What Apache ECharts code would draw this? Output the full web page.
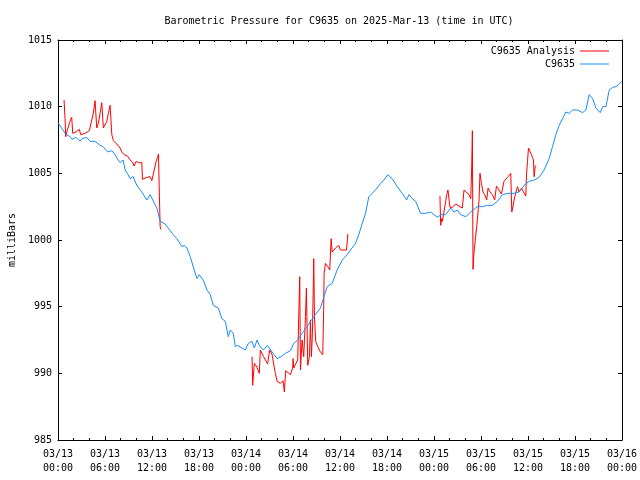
<!DOCTYPE html>
<html>
<head>
<meta charset="utf-8">
<script src="https://cdn.jsdelivr.net/npm/echarts@6/dist/echarts.min.js"></script>
<style>
html,body{margin:0;padding:0;background:#fff;}
#chart{width:640px;height:480px;}
</style>
</head>
<body>
<div id="chart"></div>
<script>
// Time in hours after 2025-03-13 00:00 UTC
const tickLabels = ['03/13\n00:00','03/13\n06:00','03/13\n12:00','03/13\n18:00','03/14\n00:00','03/14\n06:00','03/14\n12:00','03/14\n18:00','03/15\n00:00','03/15\n06:00','03/15\n12:00','03/15\n18:00','03/16\n00:00'];

const blueHours = [0.0,0.9,1.53,1.79,2.30,2.81,3.07,3.67,4.09,4.73,
5.37,5.75,6.39,6.87,7.29,7.67,7.93,8.31,8.57,8.95,
9.21,9.59,10.06,10.70,11.34,11.76,12.62,13.04,13.68,14.32,
14.71,15.18,15.82,16.11,16.46,16.88,17.26,17.74,18.03,18.54,
19.02,19.44,19.82,20.46,20.93,21.36,21.74,21.99,22.38,22.63,
22.89,23.49,23.91,24.30,24.77,25.06,25.41,25.70,26.21,26.73,
27.33,27.97,28.48,29.03,29.67,30.09,30.60,31.16,31.80,32.23,
32.86,33.50,34.14,34.36,35.00,35.64,36.28,36.70,37.34,37.98,
38.40,38.84,39.26,39.68,40.12,40.75,41.18,41.60,42.11,42.67,
43.31,43.95,44.50,44.80,45.23,45.65,46.29,46.93,47.57,47.99,
48.50,48.85,49.49,50.13,50.55,50.98,51.41,52.05,52.69,53.54,
54.18,54.82,55.46,56.10,56.74,57.38,58.22,58.86,59.50,60.14,
60.78,61.42,62.06,62.70,63.13,63.55,63.98,64.41,64.83,65.26,
65.69,66.33,66.97,67.39,67.81,68.25,68.67,69.22,69.53,69.95,
70.37,70.80,71.23,71.65,71.96];

const bluePressure = [1008.8,1008.0,1007.75,1007.55,1007.7,1007.4,1007.6,1007.7,1007.4,1007.4,
1007.1,1007.0,1006.6,1006.7,1006.4,1006.0,1005.8,1006.0,1005.25,1004.9,
1004.6,1004.75,1004.1,1003.6,1003.0,1003.4,1002.4,1001.4,1001.2,1000.7,
1000.4,1000.1,999.5,999.6,999.4,998.75,998.0,997.1,997.4,997.0,
996.25,995.9,995.1,994.9,994.1,993.9,992.75,993.25,993.0,992.0,
992.1,991.9,991.75,992.25,992.4,991.9,992.5,992.1,991.75,992.1,
991.6,991.1,991.25,991.5,991.7,992.25,992.5,993.0,993.5,993.9,
994.4,994.9,996.1,996.5,996.75,997.75,998.5,998.75,999.25,999.75,
1000.4,1001.25,1002.0,1003.25,1003.5,1003.9,1004.25,1004.5,1004.9,1004.6,
1004.0,1003.5,1003.0,1003.4,1003.1,1002.9,1002.0,1002.0,1002.1,1001.9,
1001.7,1001.9,1001.9,1002.4,1002.1,1002.25,1001.9,1001.75,1002.1,1002.5,
1002.5,1002.6,1002.6,1002.9,1003.4,1003.5,1003.5,1003.6,1004.1,1004.4,
1004.5,1004.7,1005.25,1006.1,1007.0,1007.9,1008.6,1009.1,1009.6,1009.5,
1009.75,1009.75,1009.55,1009.75,1010.9,1010.6,1009.9,1009.55,1010.0,1010.0,
1011.25,1011.45,1011.5,1011.7,1011.9];

// null entries mark gaps in the analysis series
const redHours = [0.77,0.90,0.98,1.19,1.53,1.75,1.88,2.30,2.72,2.90,
3.45,4.00,4.31,4.51,4.73,4.95,5.15,5.37,5.59,5.79,
6.01,6.23,6.43,6.65,6.87,7.07,7.51,7.93,8.15,8.44,
8.86,9.21,9.55,9.72,9.97,10.27,10.70,10.78,11.34,11.76,
11.98,12.28,12.53,12.70,12.83,12.92,13.04,13.13,
null,
24.77,24.85,25.06,25.41,25.70,25.83,26.25,26.76,27.02,27.33,
27.62,27.75,27.97,28.39,28.73,28.90,29.07,29.67,29.96,30.01,
30.09,30.60,30.73,30.86,30.95,31.16,31.37,31.59,31.71,31.88,
32.10,32.23,32.35,32.48,32.65,32.74,32.90,33.16,33.50,33.80,
33.92,33.97,34.14,34.44,34.69,34.87,35.00,35.42,35.84,36.06,
36.83,37.00,
null,
48.76,48.85,48.98,49.07,49.27,49.49,49.62,49.78,49.91,50.04,
50.35,50.77,51.19,51.62,51.83,52.05,52.47,52.69,52.81,52.90,
52.98,53.11,53.29,53.45,53.62,53.75,53.87,54.05,54.26,54.48,
54.73,54.90,55.15,55.46,55.75,55.97,56.30,56.61,56.94,57.38,
57.80,57.93,58.09,58.31,58.66,58.86,59.17,59.42,59.72,59.81,
59.94,60.06,60.36,60.70,60.78,60.91,61.00];

const redPressure = [1010.5,1009.1,1007.75,1008.25,1008.9,1009.2,1008.0,1008.1,1008.3,1007.9,
1008.0,1008.2,1009.0,1009.5,1010.45,1008.4,1008.75,1009.5,1010.3,1008.4,
1008.25,1008.9,1009.5,1010.1,1007.9,1007.45,1007.2,1006.9,1006.6,1006.4,
1006.3,1006.0,1005.8,1005.55,1005.9,1005.8,1005.8,1004.55,1004.7,1004.75,
1004.45,1005.25,1005.9,1006.2,1006.45,1003.9,1001.0,1000.8,
null,
991.25,989.1,990.75,990.45,990.0,991.75,991.25,990.7,991.75,991.4,
990.4,990.0,989.4,989.25,989.45,988.6,990.2,989.9,990.4,991.1,
990.4,991.0,994.25,997.25,990.25,992.5,991.25,994.25,996.4,990.6,
991.25,994.0,991.25,993.0,998.6,994.25,992.4,992.0,991.6,991.4,
994.9,997.5,998.25,998.0,997.75,1000.1,999.1,999.4,999.6,999.25,
999.25,1000.45,
null,
1003.3,1001.1,1001.6,1001.4,1002.1,1002.9,1003.4,1003.75,1003.75,1002.45,
1002.45,1002.7,1002.55,1002.4,1003.75,1003.8,1003.4,1003.1,1005.4,1008.2,
997.8,999.1,1000.1,1001.0,1002.1,1003.0,1005.0,1004.25,1003.6,1003.4,
1003.0,1003.9,1003.6,1003.4,1003.0,1004.05,1003.75,1003.45,1004.4,1004.7,
1005.0,1002.1,1002.55,1003.25,1004.0,1003.6,1003.9,1003.6,1003.3,1004.9,
1005.9,1006.9,1006.5,1006.0,1004.75,1005.5,1005.6];

const FONT = 'DejaVu Sans Mono';
const blueData = blueHours.map((h, i) => [h, bluePressure[i]]);
const redData = redHours.map((h, i) => (h === null || redPressure[i] === null) ? ['-', '-'] : [h, redPressure[i]]);

const chart = echarts.init(document.getElementById('chart'), null, {renderer: 'canvas'});
const xCommon = {
  type: 'value', min: 0, max: 72, interval: 6,
  axisLine: {show: true, onZero: false, lineStyle: {color: '#000', width: 1}},
  axisTick: {show: true, inside: true, length: 4, lineStyle: {color: '#000'}},
  minorTick: {show: true, splitNumber: 3, length: 2, lineStyle: {color: '#000'}},
  splitLine: {show: false}
};
const yCommon = {
  type: 'value', min: 985, max: 1015, interval: 5,
  axisLine: {show: true, onZero: false, lineStyle: {color: '#000', width: 1}},
  axisTick: {show: true, inside: true, length: 4, lineStyle: {color: '#000'}},
  splitLine: {show: false}
};
chart.setOption({
  animation: false,
  backgroundColor: '#fff',
  title: {
    text: 'Barometric Pressure for C9635 on 2025-Mar-13 (time in UTC)',
    left: 334, top: 11, textAlign: 'center',
    textStyle: {fontFamily: FONT, fontSize: 10, fontWeight: 'normal', color: '#000'}
  },
  legend: {
    data: ['C9635 Analysis', 'C9635'],
    orient: 'vertical', align: 'right',
    right: 26, top: 40,
    itemWidth: 29, itemHeight: 1, itemGap: 1,
    icon: 'rect',
    textStyle: {fontFamily: FONT, fontSize: 10, color: '#000', lineHeight: 12}
  },
  grid: {left: 58, right: 18, top: 40, bottom: 40, containLabel: false, outerBoundsMode: 'none'},
  xAxis: [
    Object.assign({}, xCommon, {
      position: 'bottom',
      axisLabel: {
        show: true, margin: 7, color: '#000', fontFamily: FONT, fontSize: 10, lineHeight: 14,
        showMinLabel: true, showMaxLabel: true,
        formatter: v => tickLabels[Math.round(v / 6)]
      }
    }),
    Object.assign({}, xCommon, {position: 'top', axisLabel: {show: false}})
  ],
  yAxis: [
    Object.assign({}, yCommon, {
      position: 'left',
      name: 'milliBars', nameLocation: 'middle', nameRotate: 90, nameGap: 36,
      nameTextStyle: {fontFamily: FONT, fontSize: 10, color: '#000'},
      axisLabel: {show: true, margin: 6, color: '#000', fontFamily: FONT, fontSize: 10,
        formatter: v => String(v)}
    }),
    Object.assign({}, yCommon, {position: 'right', axisLabel: {show: false}})
  ],
  series: [
    {
      name: 'C9635 Analysis', type: 'line', data: redData,
      xAxisIndex: 0, yAxisIndex: 0,
      showSymbol: false, symbol: 'none', connectNulls: false,
      color: '#ff0000', lineStyle: {color: '#ff0000', width: 1}
    },
    {
      name: 'C9635', type: 'line', data: blueData,
      xAxisIndex: 0, yAxisIndex: 0,
      showSymbol: false, symbol: 'none',
      color: '#1a8cf5', lineStyle: {color: '#1a8cf5', width: 1}
    }
  ]
});
</script>
</body>
</html>
